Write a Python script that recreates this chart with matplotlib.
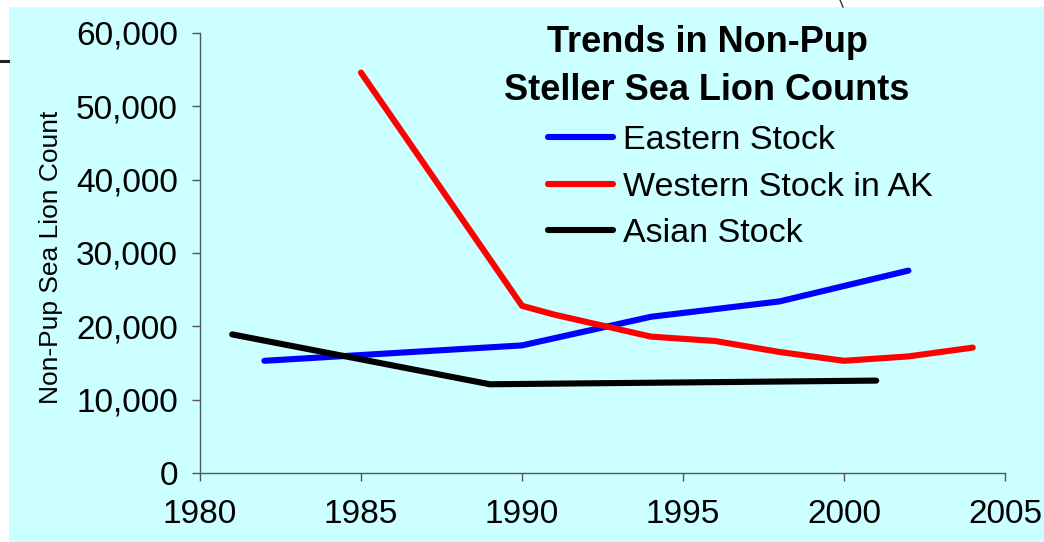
import matplotlib.pyplot as plt
from matplotlib.patches import Rectangle
from matplotlib.lines import Line2D
from matplotlib.ticker import FuncFormatter

plt.rcParams['font.family'] = ['Liberation Sans', 'DejaVu Sans']

# Non-pup counts by survey year
eastern_years = [1982, 1990, 1994, 1998, 2002]
eastern_counts = [15300, 17400, 21300, 23400, 27600]

western_years = [1985, 1990, 1991, 1994, 1996, 1998, 2000, 2002, 2004]
western_counts = [54600, 22800, 21600, 18600, 18000, 16500, 15300, 15900, 17100]

asian_years = [1981, 1989, 2001]
asian_counts = [18900, 12100, 12600]

x_ticks = [1980, 1985, 1990, 1995, 2000, 2005]
y_ticks = [0, 10000, 20000, 30000, 40000, 50000, 60000]

bg = '#CCFFFF'

fig = plt.figure(figsize=(10.44, 5.42), dpi=100)
fig.patch.set_facecolor('white')
W, H = 1044, 542
fig.patches.append(Rectangle((9 / W, 0), 1, 1 - 7 / H, transform=fig.transFigure,
                             facecolor=bg, edgecolor='none', zorder=-10))
# bits of the neighbouring slide edge
fig.lines.append(Line2D([0, 8 / W], [1 - 60.5 / H, 1 - 60.5 / H], transform=fig.transFigure,
                        color='#222222', lw=2.2))
fig.lines.append(Line2D([840 / W, 843 / W], [1, 1 - 7 / H], transform=fig.transFigure,
                        color='#333333', lw=1.0))

ax = fig.add_axes([200 / W, 1 - 473 / H, 805 / W, 440 / H])
ax.set_facecolor('none')
ax.set_zorder(1)

lw = 4.4
ax.plot(eastern_years, eastern_counts, color='#0000FF', lw=lw, solid_capstyle='round',
        solid_joinstyle='round', label='Eastern Stock')
ax.plot(western_years, western_counts, color='#FF0000', lw=lw, solid_capstyle='round',
        solid_joinstyle='round', label='Western Stock in AK')
ax.plot(asian_years, asian_counts, color='black', lw=lw, solid_capstyle='round',
        solid_joinstyle='round', label='Asian Stock')

ax.set_xlim(1980, 2005)
ax.set_ylim(0, 60000)
ax.set_xticks(x_ticks)
ax.set_yticks(y_ticks)
ax.yaxis.set_major_formatter(FuncFormatter(lambda v, p: f'{int(v):,}'))

for s in ['top', 'right']:
    ax.spines[s].set_visible(False)
for s in ['left', 'bottom']:
    ax.spines[s].set_color('#555555')
    ax.spines[s].set_linewidth(1.0)
ax.tick_params(axis='both', direction='out', length=6, width=1.0, color='#555555',
               labelsize=24, labelcolor='black')
ax.tick_params(axis='x', pad=13)
ax.tick_params(axis='y', pad=10)

fig.text(51 / W, 1 - 257 / H, 'Non-Pup Sea Lion Count', rotation=90, fontsize=19,
         ha='center', va='center')

fig.text(707 / W, 1 - 43 / H, 'Trends in Non-Pup', fontsize=26, fontweight='bold',
         ha='center', va='center')
fig.text(707 / W, 1 - 90 / H, 'Steller Sea Lion Counts', fontsize=26, fontweight='bold',
         ha='center', va='center')

leg = ax.legend(loc='upper left', bbox_to_anchor=(548 / W, 1 - 125 / H),
                bbox_transform=fig.transFigure, frameon=False, fontsize=24.5,
                handlelength=1.9, handletextpad=0.3, labelspacing=0.46,
                borderpad=0, borderaxespad=0)

fig.savefig('out.png', dpi=100, facecolor=fig.get_facecolor())
